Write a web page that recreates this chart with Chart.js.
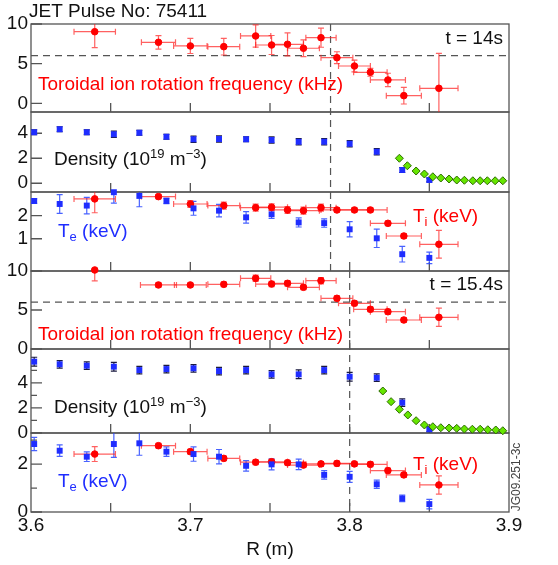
<!DOCTYPE html>
<html>
<head>
<meta charset="utf-8">
<script src="https://cdn.jsdelivr.net/npm/chart.js@4.4.1/dist/chart.umd.min.js"></script>
<style>
  html, body { margin: 0; padding: 0; background: #fff; }
  #wrap { width: 558px; height: 565px; }
</style>
</head>
<body>
<div id="wrap"><canvas id="profileChart" width="558" height="565"></canvas></div>
<script>
// --- data ---
const xTicks = [3.6, 3.7, 3.8, 3.9];
const xMinor = [3.65, 3.7, 3.75, 3.8, 3.85];
const rotTicks = [0, 5, 10];
const denTicks = [0, 2, 4];
const tempTicks14 = [1, 2];
const tempTicks154 = [0, 2];
const denMinor154 = [1, 3, 5];
const tempMinor154 = [1, 3];

// separatrix position (m) and reference rotation (kHz) for the dashed lines
const sepR = [3.788, 3.8];
const refRot = [6, 6];

// CXRS channels (rotation and Ti)
const cxrsR = [3.640, 3.680, 3.700, 3.721, 3.741, 3.751, 3.761, 3.771, 3.782, 3.792, 3.803, 3.813, 3.824, 3.834, 3.856];
const cxrsRErr = [0.013, 0.0107, 0.0105, 0.010, 0.0095, 0.010, 0.010, 0.010, 0.0095, 0.010, 0.010, 0.0105, 0.011, 0.011, 0.012];
const cxrsRErr154 = [0, 0.0113, 0.010, 0.010, 0.0095, 0.010, 0.010, 0.010, 0.0095, 0.010, 0.010, 0.0105, 0.011, 0.011, 0.012];

const rot14 = [9.03, 7.69, 7.23, 7.14, 8.49, 7.35, 7.44, 6.94, 8.27, 5.75, 4.70, 3.91, 2.94, 0.96, 1.89];
const rot14Err = [2.0, 0.85, 0.95, 1.05, 1.4, 1.2, 1.45, 1.05, 1.2, 0.75, 0.75, 0.5, 0.85, 1.05, 4.4];
const rot154 = [10.13, 8.21, 8.21, 8.29, 9.06, 8.33, 8.42, 7.91, 8.76, 6.5, 5.86, 5.09, 4.78, 3.72, 4.06];
const rot154Err = [1.39, 0.3, 0.25, 0.3, 0.4, 0.35, 0.35, 0.3, 0.4, 0.3, 0.3, 0.3, 0.3, 0.3, 1.17];

const ti14 = [2.73, 2.83, 2.51, 2.44, 2.35, 2.37, 2.25, 2.22, 2.35, 2.25, 2.25, 2.25, 1.67, 1.12, 0.76];
const ti14Err = [0.6, 0.1, 0.15, 0.15, 0.15, 0.15, 0.15, 0.15, 0.15, 0.1, 0.1, 0.1, 0.1, 0.1, 0.6];
const ti154 = [2.42, 2.77, 2.52, 2.24, 2.08, 2.10, 2.06, 1.96, 2.01, 2.03, 2.01, 1.99, 1.73, 1.55, 1.13];
const ti154Err = [0.31, 0.1, 0.1, 0.1, 0.1, 0.1, 0.1, 0.1, 0.1, 0.1, 0.1, 0.1, 0.1, 0.1, 0.38];

// HRTS channels (density and Te)
const hrtsR = [3.602, 3.618, 3.635, 3.652, 3.668, 3.685, 3.702, 3.718, 3.735, 3.751, 3.768, 3.784, 3.800, 3.817, 3.833, 3.850];

const ne14 = [4.08, 4.32, 4.08, 3.92, 4.04, 3.72, 3.52, 3.54, 3.52, 3.46, 3.32, 3.32, 3.16, 2.52, 1.06, 0.26];
const ne14Err = [0.2, 0.2, 0.2, 0.25, 0.2, 0.2, 0.25, 0.25, 0.2, 0.25, 0.25, 0.25, 0.25, 0.25, 0.2, 0.15];
const ne154 = [5.69, 5.48, 5.37, 5.29, 5.02, 5.10, 5.16, 4.94, 5.02, 4.68, 4.68, 5.02, 4.49, 4.41, 2.42, 0.30];
const ne154Err = [0.35, 0.3, 0.3, 0.35, 0.3, 0.3, 0.3, 0.3, 0.3, 0.3, 0.35, 0.3, 0.35, 0.3, 0.3, 0.2];

const te14 = [2.64, 2.51, 2.44, 3.02, 2.86, 2.64, 2.32, 2.22, 1.93, 2.06, 1.71, 1.68, 1.41, 1.02, 0.33, 0.17];
const te14Err = [0.1, 0.41, 0.36, 0.47, 0.47, 0.12, 0.3, 0.27, 0.25, 0.18, 0.2, 0.18, 0.33, 0.4, 0.34, 0.25];
const te154 = [2.84, 2.56, 2.31, 2.84, 2.87, 2.52, 2.42, 2.31, 1.93, 1.99, 1.99, 1.55, 1.47, 1.16, 0.57, 0.33];
const te154Err = [0.28, 0.24, 0.2, 0.56, 0.5, 0.2, 0.3, 0.3, 0.22, 0.23, 0.22, 0.18, 0.23, 0.17, 0.14, 0.2];

// reflectometer edge density (green diamonds)
const reflR14 = [3.8312, 3.8362, 3.8417, 3.8469, 3.8522, 3.8572, 3.8624, 3.8672, 3.8720, 3.8773, 3.8819, 3.8864, 3.8913, 3.8961];
const refl14 = [2.0, 1.4, 0.98, 0.74, 0.52, 0.42, 0.34, 0.26, 0.24, 0.2, 0.2, 0.2, 0.2, 0.2];
const reflR154 = [3.8208, 3.8260, 3.8312, 3.8365, 3.8417, 3.8469, 3.8522, 3.8572, 3.8624, 3.8672, 3.8720, 3.8770, 3.8819, 3.8867, 3.8917, 3.8961];
const refl154 = [3.35, 2.5, 1.89, 1.44, 0.98, 0.64, 0.5, 0.42, 0.4, 0.37, 0.32, 0.3, 0.3, 0.26, 0.24, 0.18];

const FONT = '"Liberation Sans", Arial, sans-serif';
const RED = '#ff0000';
const BLUE = '#1f2dff';

function pts(xs, ys) {
    return xs.map((x, i) => ({ x: x, y: ys[i] }));
}

function redSet(label, axis, ys, yErr, xErr) {
    return {
        label: label, yAxisID: axis, data: pts(cxrsR, ys),
        errY: yErr, errX: xErr, errColor: 'rgba(255,30,30,0.7)',
        pointStyle: 'circle', pointRadius: 3.3,
        backgroundColor: RED, borderColor: RED, borderWidth: 1,
        clip: 6
    };
}

function blueSet(label, axis, ys, yErr, errColor) {
    return {
        label: label, yAxisID: axis, data: pts(hrtsR, ys),
        errY: yErr, errColor: errColor,
        pointStyle: 'rect', pointRadius: 4.2,
        backgroundColor: BLUE, borderColor: BLUE, borderWidth: 0,
        clip: 6
    };
}

function greenSet(label, axis, xs, ys) {
    return {
        label: label, yAxisID: axis, data: pts(xs, ys),
        pointStyle: 'rectRot', pointRadius: 4,
        backgroundColor: '#66e600', borderColor: '#2d6a00', borderWidth: 1,
        clip: 6
    };
}

// error bars drawn from the panel scales
const errorBars = {
    id: 'errorBars',
    beforeDatasetsDraw(chart) {
        const ctx = chart.ctx;
        const area = chart.chartArea;
        chart.data.datasets.forEach((ds, i) => {
            if (!ds.errY && !ds.errX) return;
            const meta = chart.getDatasetMeta(i);
            const xs = chart.scales[meta.xAxisID];
            const ys = chart.scales[meta.yAxisID];
            ctx.save();
            ctx.beginPath();
            ctx.rect(area.left, ys.top, area.right - area.left, ys.bottom - ys.top);
            ctx.clip();
            ctx.strokeStyle = ds.errColor;
            ctx.lineWidth = 1.2;
            ds.data.forEach((p, j) => {
                const px = xs.getPixelForValue(p.x);
                const py = ys.getPixelForValue(p.y);
                ctx.beginPath();
                if (ds.errY && ds.errY[j]) {
                    const t = ys.getPixelForValue(p.y + ds.errY[j]);
                    const b = ys.getPixelForValue(p.y - ds.errY[j]);
                    ctx.moveTo(px, t); ctx.lineTo(px, b);
                    ctx.moveTo(px - 3, t); ctx.lineTo(px + 3, t);
                    ctx.moveTo(px - 3, b); ctx.lineTo(px + 3, b);
                }
                if (ds.errX && ds.errX[j]) {
                    const l = xs.getPixelForValue(p.x - ds.errX[j]);
                    const r = xs.getPixelForValue(p.x + ds.errX[j]);
                    ctx.moveTo(l, py); ctx.lineTo(r, py);
                    ctx.moveTo(l, py - 3); ctx.lineTo(l, py + 3);
                    ctx.moveTo(r, py - 3); ctx.lineTo(r, py + 3);
                }
                ctx.stroke();
            });
            ctx.restore();
        });
    }
};

const panelIds = ['p1', 'p2', 'p3', 'p4', 'p5', 'p6'];
const minorTicks = { p5: denMinor154, p6: tempMinor154 };

// panel boxes, inward ticks and dashed reference lines
const panelFrames = {
    id: 'panelFrames',
    beforeDatasetsDraw(chart) {
        const ctx = chart.ctx;
        const area = chart.chartArea;
        const xs = chart.scales.x;
        ctx.save();
        ctx.strokeStyle = '#555';
        ctx.lineWidth = 1.3;
        panelIds.forEach(id => {
            const s = chart.scales[id];
            ctx.strokeRect(area.left, s.top, area.right - area.left, s.bottom - s.top);
            ctx.beginPath();
            s.ticks.forEach(t => {
                const y = s.getPixelForValue(t.value);
                ctx.moveTo(area.left, y); ctx.lineTo(area.left + 11, y);
            });
            (minorTicks[id] || []).forEach(v => {
                const y = s.getPixelForValue(v);
                ctx.moveTo(area.left, y); ctx.lineTo(area.left + 6, y);
            });
            xMinor.forEach(v => {
                const x = xs.getPixelForValue(v);
                ctx.moveTo(x, s.bottom); ctx.lineTo(x, s.bottom - 9);
            });
            ctx.stroke();
        });

        ctx.strokeStyle = '#555';
        ctx.lineWidth = 1.2;
        ctx.setLineDash([7, 5]);
        ctx.beginPath();
        [['p1', 'p3'], ['p4', 'p6']].forEach((pair, k) => {
            const x = xs.getPixelForValue(sepR[k]);
            ctx.moveTo(x, chart.scales[pair[0]].top);
            ctx.lineTo(x, chart.scales[pair[1]].bottom);
        });
        ['p1', 'p4'].forEach((id, k) => {
            const y = chart.scales[id].getPixelForValue(refRot[k]);
            ctx.moveTo(area.left, y); ctx.lineTo(area.right, y);
        });
        ctx.stroke();
        ctx.restore();
    }
};

function richText(ctx, parts, x, y, color) {
    let cx = x;
    ctx.fillStyle = color;
    ctx.textBaseline = 'middle';
    ctx.textAlign = 'left';
    parts.forEach(([t, k]) => {
        ctx.font = (k === 'n' ? '19px ' : '13px ') + FONT;
        const dy = k === 'sup' ? -6 : (k === 'sub' ? 5 : 0);
        ctx.fillText(t, cx, y + dy);
        cx += ctx.measureText(t).width;
    });
}

const panelLabels = {
    id: 'panelLabels',
    afterDatasetsDraw(chart) {
        const ctx = chart.ctx;
        const a = chart.chartArea;
        const s = chart.scales;
        ctx.save();
        richText(ctx, [['JET Pulse No: 75411', 'n']], 29, 12, '#111');

        ctx.textAlign = 'right';
        ctx.font = '19px ' + FONT;
        ctx.fillStyle = '#111';
        ctx.fillText('t = 14s', a.right - 6, s.p1.top + 15);
        ctx.fillText('t = 15.4s', a.right - 6, s.p4.top + 14);

        richText(ctx, [['Toroidal ion rotation frequency (kHz)', 'n']], a.left + 7, s.p1.top + 61, RED);
        richText(ctx, [['Toroidal ion rotation frequency (kHz)', 'n']], a.left + 7, s.p4.top + 64, RED);

        const dens = [['Density (10', 'n'], ['19', 'sup'], [' m', 'n'], ['\u22123', 'sup'], [')', 'n']];
        richText(ctx, dens, a.left + 23, s.p2.top + 48, '#111');
        richText(ctx, dens, a.left + 23, s.p5.top + 59, '#111');

        const te = [['T', 'n'], ['e', 'sub'], [' (keV)', 'n']];
        const ti = [['T', 'n'], ['i', 'sub'], [' (keV)', 'n']];
        richText(ctx, te, a.left + 27, s.p3.top + 40, BLUE);
        richText(ctx, ti, a.left + 382, s.p3.top + 25, RED);
        richText(ctx, te, a.left + 27, s.p6.top + 49, BLUE);
        richText(ctx, ti, a.left + 382, s.p6.top + 32, RED);

        ctx.translate(517, 477);
        ctx.rotate(-Math.PI / 2);
        ctx.font = '12px ' + FONT;
        ctx.fillStyle = '#444';
        ctx.textAlign = 'center';
        ctx.fillText('JG09.251-3c', 0, 0);
        ctx.restore();
    }
};

// one stacked y scale per panel, top panel has the highest weight
function panelScale(min, max, ticks, stackWeight, weight) {
    return {
        type: 'linear', position: 'left', stack: 'profiles',
        stackWeight: stackWeight, weight: weight,
        min: min, max: max, offset: false,
        grid: { display: false, drawTicks: false },
        border: { display: false },
        afterBuildTicks: function(scale) {
            scale.ticks = ticks.map(v => ({ value: v }));
        },
        afterFit: function(scale) { scale.width = 31; },
        ticks: {
            autoSkip: false, padding: 3, color: '#111',
            font: { family: FONT, size: 19 },
            callback: function(v) { return String(v); }
        }
    };
}

new Chart(document.getElementById('profileChart'), {
    type: 'scatter',
    data: {
        datasets: [
            redSet('Rotation 14s', 'p1', rot14, rot14Err, cxrsRErr),
            greenSet('Reflectometer 14s', 'p2', reflR14, refl14),
            blueSet('Density 14s', 'p2', ne14, ne14Err, '#1a1a40'),
            blueSet('Te 14s', 'p3', te14, te14Err, 'rgba(40,70,255,0.85)'),
            redSet('Ti 14s', 'p3', ti14, ti14Err, cxrsRErr),
            redSet('Rotation 15.4s', 'p4', rot154, rot154Err, cxrsRErr154),
            greenSet('Reflectometer 15.4s', 'p5', reflR154, refl154),
            blueSet('Density 15.4s', 'p5', ne154, ne154Err, '#1a1a40'),
            blueSet('Te 15.4s', 'p6', te154, te154Err, 'rgba(40,70,255,0.85)'),
            redSet('Ti 15.4s', 'p6', ti154, ti154Err, cxrsRErr)
        ]
    },
    options: {
        responsive: false,
        animation: false,
        layout: { padding: { left: 0, top: 24, right: 49, bottom: 0 } },
        plugins: {
            legend: { display: false },
            tooltip: { enabled: false }
        },
        scales: {
            x: {
                type: 'linear', position: 'bottom', min: 3.6, max: 3.9,
                grid: { display: false, drawTicks: false },
                border: { display: false },
                afterBuildTicks: function(scale) {
                    scale.ticks = xTicks.map(v => ({ value: v }));
                },
                afterFit: function(scale) { scale.height = 53; },
                ticks: {
                    autoSkip: false, padding: 2, color: '#111', maxRotation: 0,
                    font: { family: FONT, size: 19 },
                    callback: function(v) { return Number(v).toFixed(1); }
                },
                title: {
                    display: true, text: 'R (m)', color: '#111',
                    font: { family: FONT, size: 19 },
                    padding: { top: 0, bottom: 4 }
                }
            },
            p1: panelScale(-1.1, 10, rotTicks, 88, 6),
            p2: panelScale(-0.7, 5.7, denTicks, 80, 5),
            p3: panelScale(-0.4, 3.03, tempTicks14, 79, 4),
            p4: panelScale(0, 10, rotTicks, 78, 3),
            p5: panelScale(0, 6.7, denTicks, 84, 2),
            p6: panelScale(0, 3.3, tempTicks154, 79, 1)
        }
    },
    plugins: [panelFrames, errorBars, panelLabels]
});
</script>
</body>
</html>
